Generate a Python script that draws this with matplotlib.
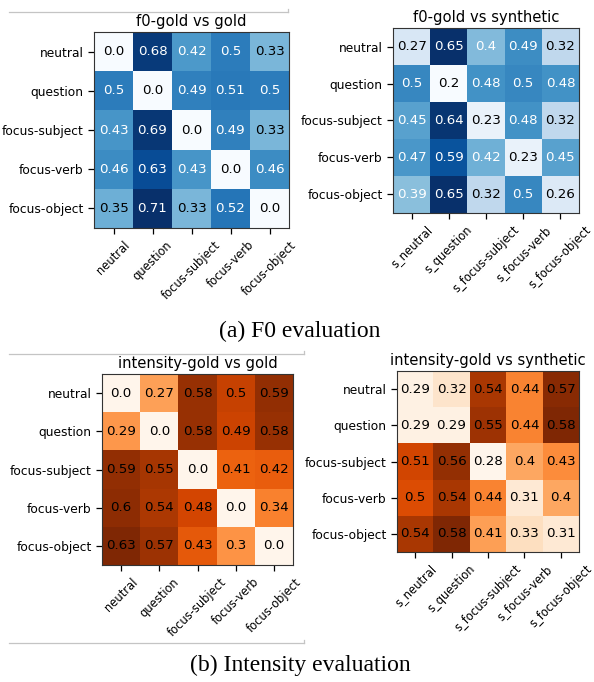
import matplotlib
matplotlib.use("Agg")
import matplotlib.pyplot as plt
from matplotlib.lines import Line2D
import numpy as np

rows = ["neutral", "question", "focus-subject", "focus-verb", "focus-object"]
cols_gold = ["neutral", "question", "focus-subject", "focus-verb", "focus-object"]
cols_syn = ["s_neutral", "s_question", "s_focus-subject", "s_focus-verb", "s_focus-object"]

f0_gold = [
    [0.0, 0.68, 0.42, 0.5, 0.33],
    [0.5, 0.0, 0.49, 0.51, 0.5],
    [0.43, 0.69, 0.0, 0.49, 0.33],
    [0.46, 0.63, 0.43, 0.0, 0.46],
    [0.35, 0.71, 0.33, 0.52, 0.0],
]
f0_syn = [
    [0.27, 0.65, 0.4, 0.49, 0.32],
    [0.5, 0.2, 0.48, 0.5, 0.48],
    [0.45, 0.64, 0.23, 0.48, 0.32],
    [0.47, 0.59, 0.42, 0.23, 0.45],
    [0.39, 0.65, 0.32, 0.5, 0.26],
]
int_gold = [
    [0.0, 0.27, 0.58, 0.5, 0.59],
    [0.29, 0.0, 0.58, 0.49, 0.58],
    [0.59, 0.55, 0.0, 0.41, 0.42],
    [0.6, 0.54, 0.48, 0.0, 0.34],
    [0.63, 0.57, 0.43, 0.3, 0.0],
]
int_syn = [
    [0.29, 0.32, 0.54, 0.44, 0.57],
    [0.29, 0.29, 0.55, 0.44, 0.58],
    [0.51, 0.56, 0.28, 0.4, 0.43],
    [0.5, 0.54, 0.44, 0.31, 0.4],
    [0.54, 0.58, 0.41, 0.33, 0.31],
]

W, H = 594, 682
fig = plt.figure(figsize=(W / 100, H / 100), dpi=100)

FS = 8.8
FX = 8.3
FA = 9.6


def px_axes(l, t, r, b):
    return fig.add_axes([l / W, 1 - b / H, (r - l) / W, (b - t) / H])


def heat(box, data, xlabels, title, cmap, white_text):
    ax = px_axes(*box)
    arr = np.array(data)
    ax.imshow(arr, cmap=cmap, aspect="auto", interpolation="nearest")
    thresh = arr.max() / 2.0
    for i in range(arr.shape[0]):
        for j in range(arr.shape[1]):
            v = data[i][j]
            c = "white" if (white_text and v > thresh) else "black"
            ax.text(j, i, f"{v}", ha="center", va="center", color=c, fontsize=FA)
    ax.set_xticks(range(len(xlabels)))
    ax.set_xticklabels(xlabels, rotation=45, fontsize=FX)
    ax.set_yticks(range(len(rows)))
    ax.set_yticklabels(rows, fontsize=FS)
    ax.tick_params(length=4, width=0.9)
    ax.set_title(title, fontsize=10.6, pad=4)
    for s in ax.spines.values():
        s.set_color("#333333")
    return ax


heat((94, 32, 289, 228), f0_gold, cols_gold, "f0-gold vs gold", "Blues", True)
heat((393, 28, 579, 213), f0_syn, cols_syn, "f0-gold vs synthetic", "Blues", True)
heat((102, 374, 293, 565), int_gold, cols_gold, "intensity-gold vs gold", "Oranges", False)
heat((397, 371, 579, 552), int_syn, cols_syn, "intensity-gold vs synthetic", "Oranges", False)

# thin gray rules from the original subfigure frames
for (x0, x1, y) in [(9, 288, 12), (9, 304, 354), (9, 304, 643)]:
    fig.add_artist(Line2D([x0 / W, x1 / W], [1 - y / H, 1 - y / H],
                          color="#c4c4c4", lw=0.9, transform=fig.transFigure))
    fig.add_artist(Line2D([x1 / W, x1 / W], [1 - y / H, 1 - (y - 3) / H],
                          color="#c4c4c4", lw=0.9, transform=fig.transFigure))

fig.text(300 / W, 1 - 331 / H, "(a) F0 evaluation", ha="center", va="center",
         fontsize=17, family="Liberation Serif")
fig.text(300 / W, 1 - 665 / H, "(b) Intensity evaluation", ha="center", va="center",
         fontsize=17, family="Liberation Serif")

fig.savefig("out.png", dpi=100)
